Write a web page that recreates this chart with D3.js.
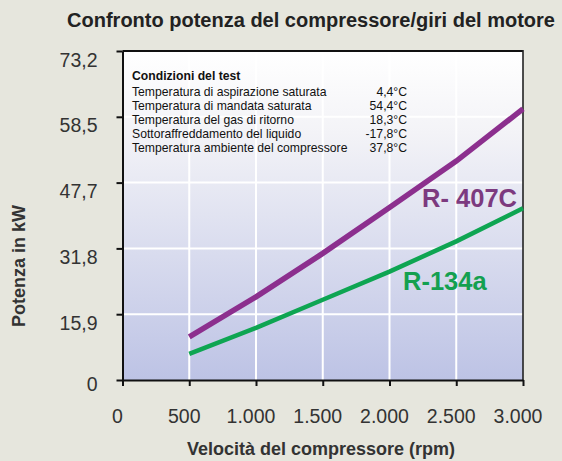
<!DOCTYPE html>
<html>
<head>
<meta charset="utf-8">
<script src="https://cdn.jsdelivr.net/npm/d3@7"></script>
<style>
  html, body { margin: 0; padding: 0; background: #e6e6dd; }
  svg { display: block; font-family: "Liberation Sans", Arial, sans-serif; }
</style>
</head>
<body>
<svg id="chart" width="562" height="461"></svg>
<script>
// ---- data ----
const rpm = [500, 1000, 1500, 2000, 2500, 3000];
const r407c = [10.4, 20.1, 30.6, 41.7, 52.9, 65.5];
const r134a = [6.3, 12.6, 19.4, 26.2, 33.5, 41.5];
const xTickValues = [0, 500, 1000, 1500, 2000, 2500, 3000];
const xTickLabels = ["0", "500", "1.000", "1.500", "2.000", "2.500", "3.000"];
const yTickValues = [0, 15.9, 31.8, 47.7, 63.6, 79.5];
const yTickLabels = ["0", "15,9", "31,8", "47,7", "58,5", "73,2"];
const testTitle = "Condizioni del test";
const testLabels = [
  "Temperatura di aspirazione saturata",
  "Temperatura di mandata saturata",
  "Temperatura del gas di ritorno",
  "Sottoraffreddamento del liquido",
  "Temperatura ambiente del compressore"
];
const testValues = ["4,4°C", "54,4°C", "18,3°C", "-17,8°C", "37,8°C"];

// ---- layout ----
const FONT = "'Liberation Sans', Arial, sans-serif";
const svg = d3.select("#chart");
const L = 122.5, R = 523, T = 51, B = 380;
const x = d3.scaleLinear().domain([0, 3000]).range([L, R]);
const y = d3.scaleLinear().domain([0, 79.5]).range([B, T]);

const defs = svg.append("defs");
const grad = defs.append("linearGradient").attr("id", "bg")
  .attr("x1", 0).attr("y1", 0).attr("x2", 0).attr("y2", 1);
grad.append("stop").attr("offset", "0%").attr("stop-color", "#ffffff");
grad.append("stop").attr("offset", "25%").attr("stop-color", "#f3f3f7");
grad.append("stop").attr("offset", "100%").attr("stop-color", "#bdc3e5");

svg.append("rect").attr("x", L).attr("y", T).attr("width", R - L).attr("height", B - T)
  .attr("fill", "url(#bg)");

// grid
const g = svg.append("g");
g.selectAll(".vg").data(xTickValues.slice(1, -1)).join("line")
  .attr("x1", d => x(d)).attr("x2", d => x(d)).attr("y1", T).attr("y2", B)
  .attr("stroke", "#ffffff").attr("stroke-width", 2);
g.selectAll(".hg").data(yTickValues.slice(1, -1)).join("line")
  .attr("x1", L).attr("x2", R).attr("y1", d => y(d)).attr("y2", d => y(d))
  .attr("stroke", "#ffffff").attr("stroke-width", 2);

// frame top/right
svg.append("line").attr("x1", L).attr("x2", R).attr("y1", T).attr("y2", T)
  .attr("stroke", "#111").attr("stroke-width", 2);
svg.append("line").attr("x1", R).attr("x2", R).attr("y1", T - 1).attr("y2", B)
  .attr("stroke", "#222").attr("stroke-width", 1.6);

// axes
const xAxis = d3.axisBottom(x).tickValues(xTickValues)
  .tickFormat((d, i) => xTickLabels[i]).tickSize(6).tickSizeOuter(0);
const xg = svg.append("g").attr("transform", `translate(0,${B})`).call(xAxis);
xg.select(".domain").attr("stroke", "#111").attr("stroke-width", 2);
xg.selectAll(".tick line").attr("stroke", "#111").attr("stroke-width", 2);
xg.selectAll(".tick text").attr("font-size", 19.5).attr("fill", "#333")
  .attr("font-family", FONT)
  .attr("y", 43).attr("dy", 0).attr("dx", -5.5);

const yAxis = d3.axisLeft(y).tickValues(yTickValues)
  .tickFormat((d, i) => yTickLabels[i]).tickSize(6).tickSizeOuter(0);
const yg = svg.append("g").attr("transform", `translate(${L},0)`).call(yAxis);
yg.select(".domain").attr("stroke", "#111").attr("stroke-width", 2);
yg.selectAll(".tick line").attr("stroke", "#111").attr("stroke-width", 2);
yg.selectAll(".tick text").attr("font-size", 19.5).attr("fill", "#333")
  .attr("font-family", FONT)
  .attr("x", -25).attr("dy", (d, i) => i === 0 ? "10px" : "15px");

// lines
const line = d3.line().x((d, i) => x(rpm[i])).y(d => y(d));
svg.append("path").datum(r134a).attr("d", line).attr("fill", "none")
  .attr("stroke", "#0ea552").attr("stroke-width", 4.5);
svg.append("path").datum(r407c).attr("d", line).attr("fill", "none")
  .attr("stroke", "#8c2f8e").attr("stroke-width", 5.5);

// series labels
svg.append("text").attr("x", 517).attr("y", 207).attr("text-anchor", "end")
  .attr("font-size", 25.5).attr("font-weight", "bold").attr("fill", "#7c3a7f")
  .text("R- 407C");
svg.append("text").attr("x", 403).attr("y", 290).attr("text-anchor", "start")
  .attr("font-size", 25.5).attr("font-weight", "bold").attr("fill", "#14a050")
  .text("R-134a");

// test conditions
const info = svg.append("g").attr("font-size", 12.2).attr("fill", "#111");
info.append("text").attr("x", 132).attr("y", 79.5).attr("font-weight", "bold").text(testTitle);
info.selectAll(".lbl").data(testLabels).join("text")
  .attr("x", 132).attr("y", (d, i) => 96 + i * 14).text(d => d);
info.selectAll(".val").data(testValues).join("text")
  .attr("x", 407).attr("y", (d, i) => 96 + i * 14).attr("text-anchor", "end").text(d => d);

// titles
svg.append("text").attr("x", 311).attr("y", 27).attr("text-anchor", "middle")
  .attr("font-size", 20).attr("font-weight", "bold").attr("fill", "#222")
  .text("Confronto potenza del compressore/giri del motore");
svg.append("text").attr("x", 321).attr("y", 455).attr("text-anchor", "middle")
  .attr("font-size", 18).attr("font-weight", "bold").attr("fill", "#333")
  .text("Velocità del compressore (rpm)");
svg.append("text").attr("transform", "translate(25,266) rotate(-90)").attr("text-anchor", "middle")
  .attr("font-size", 18).attr("font-weight", "bold").attr("fill", "#333")
  .text("Potenza in kW");
</script>
</body>
</html>
